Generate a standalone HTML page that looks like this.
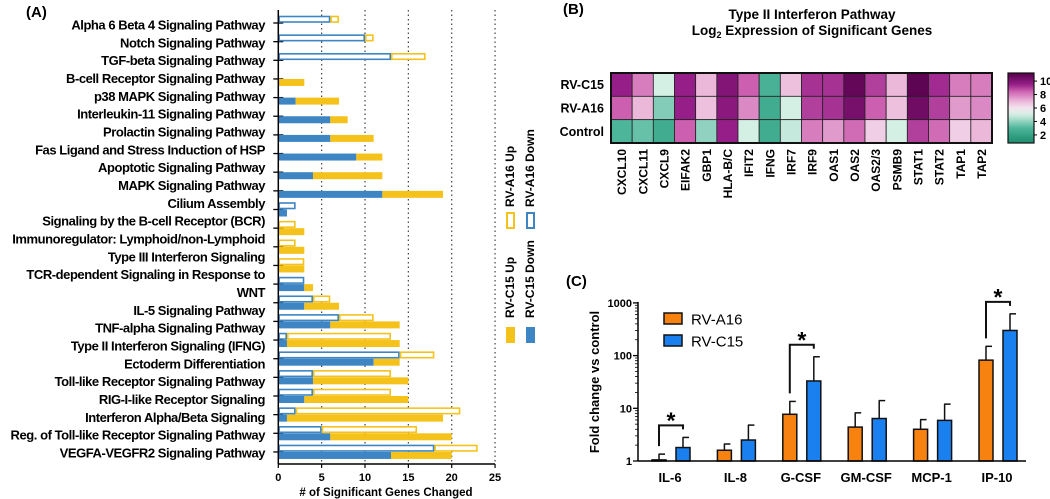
<!DOCTYPE html>
<html><head><meta charset="utf-8"><style>
body{margin:0;background:#fff}
svg{display:block;font-family:"Liberation Sans",Arial,sans-serif}
</style></head><body>
<svg id="fig" width="1050" height="499" viewBox="0 0 1050 499">
<g id="pa"></g>
<g id="pb"></g>
<g id="pc"></g>
</svg>
<script>
// ---- Panel A data ----
const pathways = ["Alpha 6 Beta 4 Signaling Pathway","Notch Signaling Pathway","TGF-beta Signaling Pathway","B-cell Receptor Signaling Pathway","p38 MAPK Signaling Pathway","Interleukin-11 Signaling Pathway","Prolactin Signaling Pathway","Fas Ligand and Stress Induction of HSP","Apoptotic Signaling Pathway","MAPK Signaling Pathway","Cilium Assembly","Signaling by the B-cell Receptor (BCR)","Immunoregulator: Lymphoid/non-Lymphoid","Type III Interferon Signaling","TCR-dependent Signaling in Response to|WNT","IL-5 Signaling Pathway","TNF-alpha Signaling Pathway","Type II Interferon Signaling (IFNG)","Ectoderm Differentiation","Toll-like Receptor Signaling Pathway","RIG-I-like Receptor Signaling","Interferon Alpha/Beta Signaling","Reg. of Toll-like Receptor Signaling Pathway","VEGFA-VEGFR2 Signaling Pathway"];
const a16Down = [6,10,13,0,0,0,0,0,0,0,2,0,0,0,3,4,7,1,14,4,4,2,5,18];
const a16Up   = [1,1,4,0,0,0,0,0,0,0,0,2,2,3,0,2,4,12,4,9,9,19,11,5];
const c15Down = [0,0,0,0,2,6,6,9,4,12,1,0,0,0,3,3,6,1,11,4,3,1,6,13];
const c15Up   = [0,0,0,3,5,2,5,3,8,7,0,3,3,3,1,4,8,13,3,11,12,18,14,7];
const xTicksA = [0,5,10,15,20,25];

// ---- Panel B data ----
const genes = ["CXCL10","CXCL11","CXCL9","EIFAK2","GBP1","HLA-B/C","IFIT2","IFNG","IRF7","IRF9","OAS1","OAS2","OAS2/3","PSMB9","STAT1","STAT2","TAP1","TAP2"];
const hmRows = ["RV-C15","RV-A16","Control"];
const exprC15 = [9.5,8,5,9.5,7,10,8.5,2.8,6.8,9.2,9.2,10.8,9,7,11,9.3,8,8];
const exprA16 = [8.5,7,3.8,9.5,6.8,9.8,7.8,2.5,5,9,9.2,10.3,8.5,6.8,10.5,9,7.5,7.8];
const exprCtl = [3,3.4,2.5,8.5,4,9.5,5,2.5,4.8,8,7.5,8.3,6.5,5,9,8.3,6.5,7];
const cbTicks = [2,4,6,8,10];

// ---- Panel C data ----
const cytokines = ["IL-6","IL-8","G-CSF","GM-CSF","MCP-1","IP-10"];
const foldA16 = [1.05,1.6,7.7,4.4,4.0,82];
const foldC15 = [1.8,2.5,33,6.4,5.9,300];
const errA16 = [1.35,2.1,13.5,8.2,6.1,150];
const errC15 = [2.8,4.8,95,14,12,620];
const yTicksC = [1,10,100,1000];
const sigGroups = [0,2,5];

const NS="http://www.w3.org/2000/svg";
function mk(parent,tag,attrs,text){const e=document.createElementNS(NS,tag);for(const k in attrs)e.setAttribute(k,attrs[k]);if(text!==undefined)e.textContent=text;parent.appendChild(e);return e;}

const BLUE="#3d85c3",YEL="#f5c21b";
// ===== Panel A =====
(function(){
 const g=document.getElementById('pa');
 const x0=278.3,px=8.67,axisY=464,t0=23,step=18.65;
 const xs=v=>x0+v*px, ys=i=>t0+i*step;
 let t=mk(g,'text',{x:26,y:17,'font-size':15,'font-weight':'bold'},'(A)');
 
 xTicksA.forEach(v=>{ if(v>0){let l=mk(g,'line',{x1:xs(v),x2:xs(v),y1:10,y2:axisY,stroke:'#444','stroke-width':1.2,'stroke-dasharray':'1.5,3'});
   }
   let tl=mk(g,'text',{x:xs(v),y:481,'font-size':11,'font-weight':'bold','text-anchor':'middle'},v);
   
   mk(g,'line',{x1:xs(v),x2:xs(v),y1:axisY,y2:axisY+4,stroke:'#000','stroke-width':1.2});
 });
 pathways.forEach((p,i)=>{
  const y=ys(i);
  mk(g,'line',{x1:x0-5,x2:x0+5,y1:y,y2:y,stroke:'#000','stroke-width':1.3});
  if(a16Down[i]>0){let r=mk(g,'rect',{x:xs(0)+0.8,y:y-6.5,width:a16Down[i]*px-1.6,height:5.5,fill:'#fff',stroke:BLUE,'stroke-width':1.6});
   }
  if(a16Up[i]>0){let r=mk(g,'rect',{x:xs(a16Down[i])+0.8,y:y-6.5,width:a16Up[i]*px-1.6,height:5.5,fill:'#fff',stroke:YEL,'stroke-width':1.6});
   }
  if(c15Down[i]>0){let r=mk(g,'rect',{x:xs(0),y:y,width:c15Down[i]*px,height:7,fill:BLUE});
   }
  if(c15Up[i]>0){let r=mk(g,'rect',{x:xs(c15Down[i]),y:y,width:c15Up[i]*px,height:7,fill:YEL});
   }
 });
 let line=0;
 pathways.forEach(p=>{p.split('|').forEach(s=>{
   let tl=mk(g,'text',{x:265,y:29.5+line*17.83,'font-size':13,'font-weight':'bold','text-anchor':'end','letter-spacing':'-0.45'},s);
   line++;});});
 mk(g,'line',{x1:x0,x2:x0,y1:10,y2:axisY,stroke:'#000','stroke-width':1.5});
 mk(g,'line',{x1:x0,x2:xs(25),y1:axisY,y2:axisY,stroke:'#000','stroke-width':1.5});
 t=mk(g,'text',{x:386,y:496,'font-size':11.5,'font-weight':'bold','text-anchor':'middle'},'# of Significant Genes Changed');
 
 const leg=[["RV-A16 Up",510,207,'o',YEL,213],["RV-A16 Down",530,207,'o',BLUE,213],["RV-C15 Up",510,318,'f',YEL,327],["RV-C15 Down",530,318,'f',BLUE,327]];
 leg.forEach(L=>{
  let tx=mk(g,'text',{x:L[1]+4,y:L[2],'font-size':12,'font-weight':'bold',transform:`rotate(-90 ${L[1]+4} ${L[2]})`},L[0]);
  
  if(L[3]==='o')mk(g,'rect',{x:L[1]-3,y:L[5],width:7,height:15,fill:'#fff',stroke:L[4],'stroke-width':2});
  else mk(g,'rect',{x:L[1]-4,y:L[5],width:9,height:16,fill:L[4]});
 });
})();

// ===== Panel B =====
(function(){
 const g=document.getElementById('pb');
 const hx=611,hy=73,cw=(992-611)/genes.length,ch=(143-73)/3;
 const stops=[[1,[31,143,112]],[3,[76,181,154]],[5,[212,239,228]],[6,[243,228,239]],[7,[236,184,218]],[8.5,[204,95,176]],[9.5,[150,30,136]],[11.2,[85,0,75]]];
 function col(v){if(v<=stops[0][0])return 'rgb('+stops[0][1]+')';for(let i=1;i<stops.length;i++){if(v<=stops[i][0]){const a=stops[i-1],b=stops[i],f=(v-a[0])/(b[0]-a[0]);return 'rgb('+a[1].map((c,k)=>Math.round(c+(b[1][k]-c)*f)).join(',')+')';}}return 'rgb('+stops[stops.length-1][1]+')';}
 let t=mk(g,'text',{x:563,y:14,'font-size':15,'font-weight':'bold'},'(B)');
 
 t=mk(g,'text',{x:812,y:19,'font-size':13.5,'font-weight':'bold','text-anchor':'middle'},'Type II Interferon Pathway');
 
 t=mk(g,'text',{x:812,y:35,'font-size':13.5,'font-weight':'bold','text-anchor':'middle'});
 
 t.innerHTML='Log<tspan font-size="9" dy="3">2</tspan><tspan dy="-3"> Expression of Significant Genes</tspan>';
 const data=[exprC15,exprA16,exprCtl];
 data.forEach((row,r)=>{row.forEach((v,c)=>{
  let cell=mk(g,'rect',{x:hx+c*cw,y:hy+r*ch,width:cw,height:ch,fill:col(v),stroke:'#222','stroke-width':0.8});
  });
  let rl=mk(g,'text',{x:604,y:hy+r*ch+ch/2+4.5,'font-size':12.5,'font-weight':'bold','text-anchor':'end'},hmRows[r]);
  });
 mk(g,'rect',{x:hx,y:hy,width:cw*genes.length,height:ch*3,fill:'none',stroke:'#111','stroke-width':2});
 genes.forEach((gn,c)=>{const x=hx+c*cw+cw/2+4.5;
  let l=mk(g,'text',{x:x,y:149,'font-size':12,'font-weight':'bold','text-anchor':'end',transform:`rotate(-90 ${x} 149)`},gn);
  });
 const cbx=1008,cbw=26,cbTop=73,cbBot=143,vTop=11.2,vBot=0.8;
 const cy=v=>cbBot-(v-vBot)/(vTop-vBot)*(cbBot-cbTop);
 const defs=mk(g,'defs',{});const lg=mk(defs,'linearGradient',{id:'cbg',x1:0,y1:1,x2:0,y2:0});
 for(let v=vBot;v<=vTop+0.01;v+=0.4){mk(lg,'stop',{offset:(v-vBot)/(vTop-vBot),'stop-color':col(v)});}
 let cb=mk(g,'rect',{x:cbx,y:cbTop,width:cbw,height:cbBot-cbTop,fill:'url(#cbg)',stroke:'#111','stroke-width':1.2});
 
 cbTicks.forEach(v=>{mk(g,'line',{x1:cbx+cbw,x2:cbx+cbw+3,y1:cy(v),y2:cy(v),stroke:'#000'});
  let l=mk(g,'text',{x:cbx+cbw+6,y:cy(v)+4,'font-size':11,'font-weight':'bold'},v);
  });
})();

// ===== Panel C =====
(function(){
 const g=document.getElementById('pc');
 const ax=638,y1=461,dec=52.7,x0=670,gs=65.4,bw=14;
 const ys=v=>y1-Math.log10(v)*dec, gx=i=>x0+i*gs;
 let t=mk(g,'text',{x:566,y:286,'font-size':15,'font-weight':'bold'},'(C)');
 
 yTicksC.forEach(v=>{mk(g,'line',{x1:ax-5,x2:ax,y1:ys(v),y2:ys(v),stroke:'#000','stroke-width':1.3});
  let l=mk(g,'text',{x:ax-6,y:ys(v)+4,'font-size':11,'font-weight':'bold','text-anchor':'end'},v);
  
  if(v<1000)for(let m=2;m<10;m++)mk(g,'line',{x1:ax-3,x2:ax,y1:ys(v*m),y2:ys(v*m),stroke:'#000','stroke-width':0.8});});
 t=mk(g,'text',{x:599,y:382,'font-size':13,'font-weight':'bold','text-anchor':'middle',transform:'rotate(-90 599 382)'},'Fold change vs control');
 
 cytokines.forEach((c,i)=>{
  const xa=gx(i)-11-bw/2, xb=gx(i)+13-bw/2;
  [[foldA16[i],errA16[i],xa,'#f7820f','bar-rv-a16'],[foldC15[i],errC15[i],xb,'#1a80f0','bar-rv-c15']].forEach(B=>{
   mk(g,'line',{x1:B[2]+bw/2,x2:B[2]+bw/2,y1:ys(B[0]),y2:ys(B[1]),stroke:'#111','stroke-width':1.5});
   mk(g,'line',{x1:B[2]+bw/2-0.5,x2:B[2]+bw/2+6,y1:ys(B[1]),y2:ys(B[1]),stroke:'#111','stroke-width':1.5});
   let r=mk(g,'rect',{x:B[2],y:ys(B[0]),width:bw,height:y1-ys(B[0]),fill:B[3],stroke:'#111','stroke-width':1.5});
   });
  let l=mk(g,'text',{x:gx(i),y:482,'font-size':13,'font-weight':'bold','text-anchor':'middle'},c);
  
 });
 sigGroups.forEach(i=>{
  const xl=gx(i)-11,xr=gx(i)+13;
  const top=ys(Math.max(errA16[i],errC15[i]))-12;
  const br=mk(g,'path',{d:`M${xl},${ys(errA16[i])-8} V${top} H${xr} V${ys(errC15[i])-8}`,fill:'none',stroke:'#111','stroke-width':2});
  
  const s=mk(g,'text',{x:(xl+xr)/2,y:top+3,'font-size':23,'font-weight':'bold','text-anchor':'middle'},'*');
  
 });
 mk(g,'line',{x1:ax,x2:ax,y1:ys(1000)-1,y2:y1,stroke:'#000','stroke-width':1.5});
 mk(g,'line',{x1:ax,x2:1026,y1:y1,y2:y1,stroke:'#000','stroke-width':1.5});
 [["RV-A16",'#f7820f',313],["RV-C15",'#1a80f0',335]].forEach(L=>{
  mk(g,'rect',{x:664,y:L[2],width:18,height:11,fill:L[1],stroke:'#111','stroke-width':1.5});
  let tx=mk(g,'text',{x:691,y:L[2]+11.5,'font-size':15},L[0]);
  });
})();
</script>
</body></html>
